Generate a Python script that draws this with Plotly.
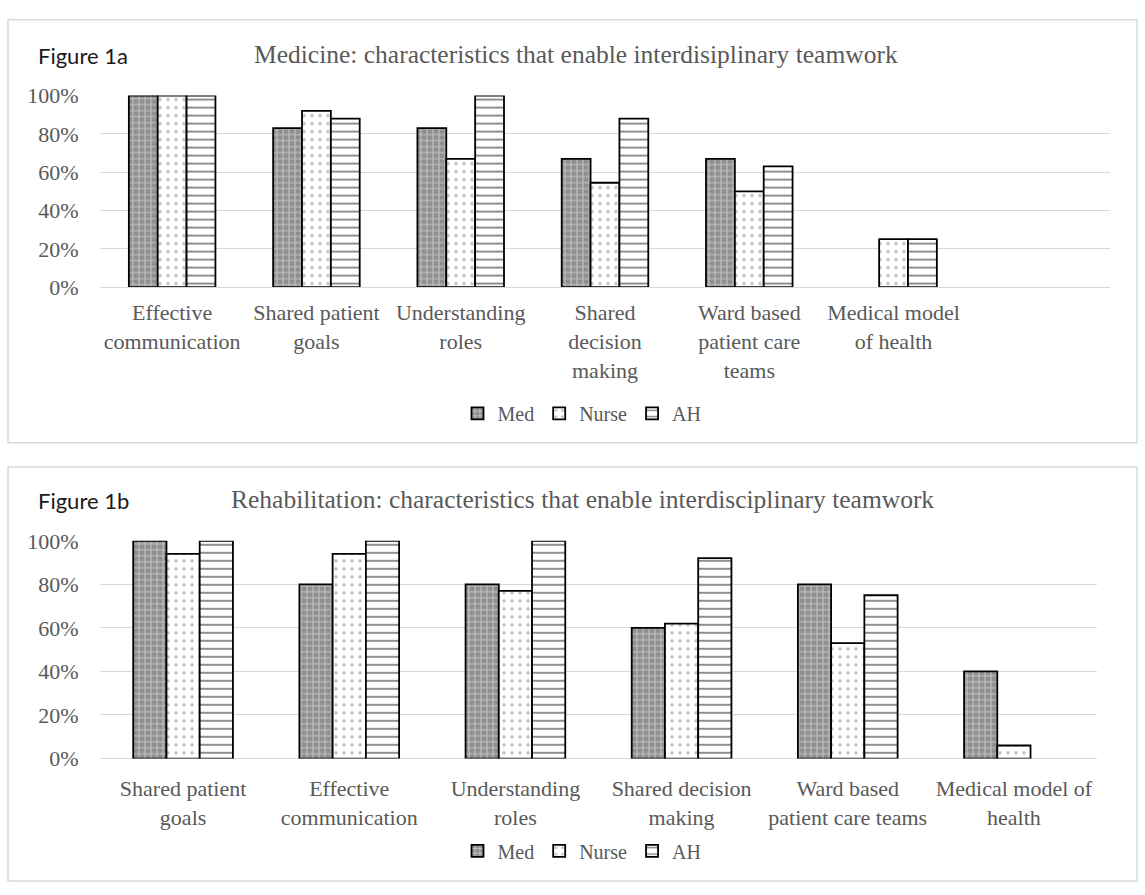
import plotly.graph_objects as go

# Percentage of each professional group endorsing each characteristic
med_categories = [
    "Effective<br>communication",
    "Shared patient<br>goals",
    "Understanding<br>roles",
    "Shared<br>decision<br>making",
    "Ward based<br>patient care<br>teams",
    "Medical model<br>of health",
]
med_med = [100, 83, 83, 67, 67, 0]
med_nurse = [100, 92, 67, 54.5, 50, 25]
med_ah = [100, 88, 100, 88, 63, 25]

rehab_categories = [
    "Shared patient<br>goals",
    "Effective<br>communication",
    "Understanding<br>roles",
    "Shared decision<br>making",
    "Ward based<br>patient care teams",
    "Medical model of<br>health",
]
rehab_med = [100, 80, 80, 60, 80, 40]
rehab_nurse = [94, 94, 77, 62, 53, 6]
rehab_ah = [100, 100, 100, 92, 75, 0]

series_names = ["Med", "Nurse", "AH"]
y_ticks = [0, 20, 40, 60, 80, 100]
y_tick_labels = [f"{v}%" for v in y_ticks]

W, H = 1145, 895


def fx(px):
    return px / W


def fy(px):
    return 1 - px / H


SERIF = "Liberation Serif"
TEXT = "#595959"
GRID = "#d9d9d9"

patterns = {
    "Med": dict(shape="+", bgcolor="#8f8f8f", fgcolor="#ffffff", size=6, solidity=0.3),
    "Nurse": dict(shape=".", bgcolor="#ffffff", fgcolor="#7f7f7f", size=8, solidity=0.15),
    "AH": dict(shape="-", bgcolor="#ffffff", fgcolor="#000000", size=8, solidity=0.22),
}

fig = go.Figure()

panels = [
    (med_categories, [med_med, med_nurse, med_ah], "x", "y", "legend"),
    (rehab_categories, [rehab_med, rehab_nurse, rehab_ah], "x2", "y2", "legend2"),
]
for cats, values, xa, ya, lg in panels:
    for name, vals in zip(series_names, values):
        # zero-height bars get no outline
        widths = [1.8 if v > 0 else 0 for v in vals]
        fig.add_trace(go.Bar(
            x=cats, y=vals, name=name, xaxis=xa, yaxis=ya, legend=lg,
            marker=dict(color="#ffffff", pattern=patterns[name],
                        line=dict(color="#000000", width=widths)),
            hoverinfo="skip",
        ))

axis_font = dict(family=SERIF, size=22, color=TEXT)
xcommon = dict(type="category", showgrid=False, showline=False, zeroline=False,
               ticks="outside", tickcolor="rgba(0,0,0,0)",
               tickfont=axis_font, fixedrange=True)
ycommon = dict(range=[0, 100], tickmode="array", tickvals=y_ticks, ticktext=y_tick_labels,
               showgrid=True, gridcolor=GRID, gridwidth=1.3, zeroline=True,
               zerolinecolor=GRID, zerolinewidth=1.3, showline=False, ticks="outside",
               ticklen=16, tickcolor="rgba(0,0,0,0)", tickfont=axis_font, fixedrange=True)

legend_font = dict(family=SERIF, size=20, color=TEXT)
legend_common = dict(orientation="h", xanchor="center", yanchor="middle", font=legend_font,
                     itemwidth=30, bgcolor="rgba(0,0,0,0)")

fig.update_layout(
    width=W, height=H,
    margin=dict(l=0, r=0, t=0, b=0),
    paper_bgcolor="white", plot_bgcolor="white",
    barmode="group", bargap=0.4, bargroupgap=0,
    xaxis=dict(domain=[fx(100), fx(1110)], range=[-0.5, 6.5], anchor="y", ticklen=6, **xcommon),
    yaxis=dict(domain=[fy(283), fy(86)], anchor="x", **ycommon),
    xaxis2=dict(domain=[fx(100), fx(1097)], range=[-0.5, 5.5], anchor="y2", ticklen=10, **xcommon),
    yaxis2=dict(domain=[fy(768), fy(544)], anchor="x2", **ycommon),
    legend=dict(x=fx(582), y=fy(413), **legend_common),
    legend2=dict(x=fx(582), y=fy(863), **legend_common),
    shapes=[
        dict(type="rect", xref="paper", yref="paper", x0=fx(8), x1=fx(1137),
             y0=fy(443), y1=fy(8), line=dict(color="#d9d9d9", width=1.5)),
        dict(type="rect", xref="paper", yref="paper", x0=fx(8), x1=fx(1137),
             y0=fy(894), y1=fy(468), line=dict(color="#d9d9d9", width=1.5)),
    ],
    annotations=[
        dict(text="Figure 1a", xref="paper", yref="paper", x=fx(36), y=fy(45),
             xanchor="left", yanchor="middle", showarrow=False,
             font=dict(family="Lato", size=22, color="#1a1a1a")),
        dict(text="Medicine: characteristics that enable interdisiplinary teamwork",
             xref="paper", yref="paper", x=fx(576), y=fy(44), xanchor="center",
             yanchor="middle", showarrow=False,
             font=dict(family=SERIF, size=25.5, color=TEXT)),
        dict(text="Figure 1b", xref="paper", yref="paper", x=fx(36), y=fy(503),
             xanchor="left", yanchor="middle", showarrow=False,
             font=dict(family="Lato", size=22, color="#1a1a1a")),
        dict(text="Rehabilitation: characteristics that enable interdisciplinary teamwork",
             xref="paper", yref="paper", x=fx(582), y=fy(502), xanchor="center",
             yanchor="middle", showarrow=False,
             font=dict(family=SERIF, size=25.5, color=TEXT)),
    ],
)

fig.write_html("out.html")
